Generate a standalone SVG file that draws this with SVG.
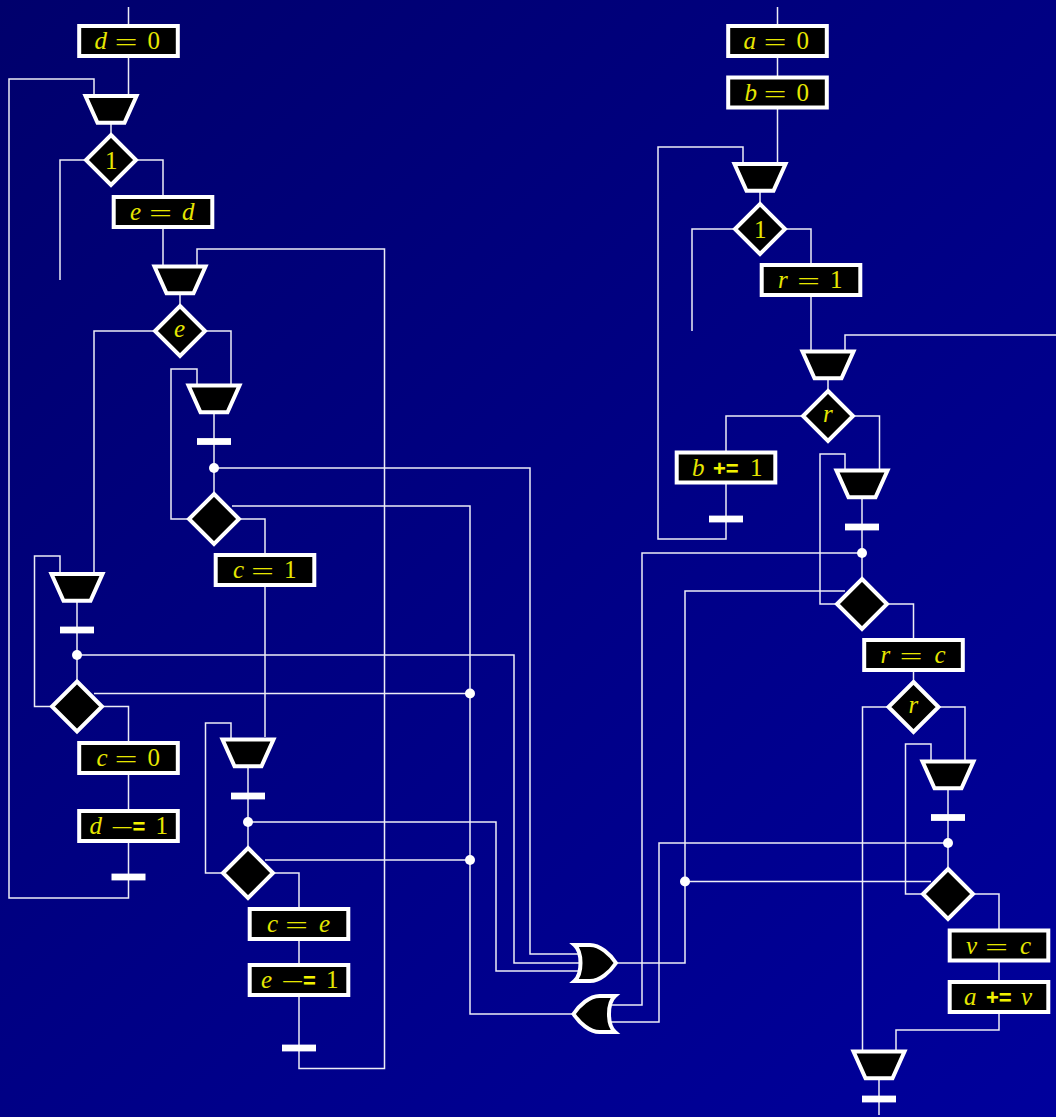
<svg xmlns="http://www.w3.org/2000/svg" width="1056" height="1117" viewBox="0 0 1056 1117">
<style>
.w{fill:none;stroke:#ecECF6;stroke-width:1.5}
.s{fill:#000;stroke:#fff;stroke-width:4;stroke-miterlimit:10}
.bar{fill:#fff}
.dot{fill:#fff}
text{font-family:"Liberation Serif",serif;font-size:25px;fill:#e6e600}
.i{font-style:italic}
.e{font-family:"DejaVu Sans",sans-serif;font-weight:200;font-size:30px}
.b{font-family:"Liberation Sans",sans-serif;font-weight:bold;font-size:22px;fill:#f2f200}
</style>
<defs>
<linearGradient id="bg" gradientUnits="userSpaceOnUse" x1="0" y1="0" x2="1056" y2="1117"><stop offset="0" stop-color="#00006c"/><stop offset="1" stop-color="#00009c"/></linearGradient>
<rect id="box" class="s" x="-49.3" y="-15" width="98.6" height="30"/>
<polygon id="mg" class="s" points="-25.5,-13.500 25.500,-13.500 13.500,13.200 -13.500,13.200"/>
<polygon id="di" class="s" points="0,-25 25,0 0,25 -25,0"/>
<rect id="br" class="bar" x="-17" y="-3.400" width="34" height="6.800"/>
<path id="org" class="s" d="M574.500,945C582.500,952 582.500,974 574.500,981L590,981C600,981 610,972 616,963C610,954 600,945 590,945Z"/>
</defs>
<rect width="1056" height="1117" fill="url(#bg)"/>
<g id="connectors">
<path class="w" d="M128.500,7V96M94,96V79H9V898H128.500V826"/>
<path class="w" d="M111,122V135M85,160H60V280M137,160H163V266"/>
<path class="w" d="M197,266V249H384.500V1068.500H299V980M180,292V305M154,331H94V574M206,331H231V385"/>
<path class="w" d="M197,385V369H171V519H190M214,412V495M214,468H530V954H580M232,506H470V1014H575M240,519H265V737"/>
<path class="w" d="M231,739V723H205.500V873H225M248,766V850M248,822H496V971H580M265,860H470M274,873H299V980"/>
<path class="w" d="M60,573V556H34.500V706.500H54M77,600V683M77,655H514V963H580M94,693.500H470M103,706.500H128.500V826"/>
<path class="w" d="M777.500,7V164M743,164V147H658V539H726V468"/>
<path class="w" d="M760,190V205M734,229H692V331M786,229H811V352M845,352V335H1056M828,377V392M802,416H726V452M854,416H879.500V470"/>
<path class="w" d="M845,470V454H820V604H840M862,497V580M862,553H642V1005H612M845,591H685V963H615M888,604H913.500V684"/>
<path class="w" d="M888,707H862.500V1051M939,707H965V761M931,761V744H905.500V894H925M948,788V870M948,843H659V1022H610M931,881.500H685M974,894H999V1030H896V1051M879,1078V1115"/>
</g>
<g id="or1"><use href="#org"/></g>
<g id="or2"><use href="#org" transform="translate(1189.500,51) scale(-1,1)"/></g>
<g id="dots">
<circle class="dot" cx="214" cy="468" r="5"/><circle class="dot" cx="77" cy="655" r="5"/><circle class="dot" cx="248" cy="822" r="5"/>
<circle class="dot" cx="470" cy="693.500" r="5"/><circle class="dot" cx="470" cy="860" r="5"/><circle class="dot" cx="862" cy="553" r="5"/>
<circle class="dot" cx="948" cy="843" r="5"/><circle class="dot" cx="685" cy="881.500" r="5"/>
</g>
<g id="bars">
<use href="#br" x="214" y="441.500"/><use href="#br" x="77" y="630"/><use href="#br" x="248" y="796"/><use href="#br" x="128.500" y="877"/><use href="#br" x="299" y="1048"/>
<use href="#br" x="726" y="519"/><use href="#br" x="862" y="527"/><use href="#br" x="948" y="817.500"/><use href="#br" x="879" y="1099"/>
</g>
<g id="m1" transform="translate(111,109.500)"><use href="#mg"/></g>
<g id="m2" transform="translate(180,280)"><use href="#mg"/></g>
<g id="m3" transform="translate(214,399)"><use href="#mg"/></g>
<g id="m4" transform="translate(77,587.500)"><use href="#mg"/></g>
<g id="m5" transform="translate(248,753)"><use href="#mg"/></g>
<g id="m6" transform="translate(760,177.500)"><use href="#mg"/></g>
<g id="m7" transform="translate(828,365)"><use href="#mg"/></g>
<g id="m8" transform="translate(862,484)"><use href="#mg"/></g>
<g id="m9" transform="translate(948,775)"><use href="#mg"/></g>
<g id="m10" transform="translate(879,1065)"><use href="#mg"/></g>
<g id="d1" transform="translate(111,160)"><use href="#di"/><text x="-6" y="8.500">1</text></g>
<g id="d2" transform="translate(180,331)"><use href="#di"/><text class="i" x="-6" y="6">e</text></g>
<g id="d3" transform="translate(214,519)"><use href="#di"/></g>
<g id="d4" transform="translate(77,706.500)"><use href="#di"/></g>
<g id="d5" transform="translate(248,873)"><use href="#di"/></g>
<g id="d6" transform="translate(760,229)"><use href="#di"/><text x="-6" y="8.500">1</text></g>
<g id="d7" transform="translate(828,416)"><use href="#di"/><text class="i" x="-5" y="6">r</text></g>
<g id="d8" transform="translate(862,604)"><use href="#di"/></g>
<g id="d9" transform="translate(913.500,707)"><use href="#di"/><text class="i" x="-5" y="6">r</text></g>
<g id="d10" transform="translate(948,894)"><use href="#di"/></g>
<g id="b1" transform="translate(128.500,41)"><use href="#box"/><text><tspan class="i" x="-34" y="8">d</tspan><tspan class="e" x="-15" y="11">=</tspan><tspan x="19" y="8">0</tspan></text></g>
<g id="b2" transform="translate(163,212)"><use href="#box"/><text><tspan class="i" x="-33" y="8">e</tspan><tspan class="e" x="-15" y="11">=</tspan><tspan class="i" x="19" y="8">d</tspan></text></g>
<g id="b3" transform="translate(265,570)"><use href="#box"/><text><tspan class="i" x="-32" y="8">c</tspan><tspan class="e" x="-15" y="11">=</tspan><tspan x="19" y="8">1</tspan></text></g>
<g id="b4" transform="translate(128.500,758)"><use href="#box"/><text><tspan class="i" x="-32" y="8">c</tspan><tspan class="e" x="-15" y="11">=</tspan><tspan x="19" y="8">0</tspan></text></g>
<g id="b5" transform="translate(128.500,826)"><use href="#box"/><text><tspan class="i" x="-39" y="8">d</tspan><tspan class="e" x="-19" y="11">−</tspan><tspan class="b" x="4" y="8">=</tspan><tspan x="27" y="8">1</tspan></text></g>
<g id="b6" transform="translate(299,924)"><use href="#box"/><text><tspan class="i" x="-32" y="8">c</tspan><tspan class="e" x="-15" y="11">=</tspan><tspan class="i" x="20" y="8">e</tspan></text></g>
<g id="b7" transform="translate(299,980)"><use href="#box"/><text><tspan class="i" x="-38" y="8">e</tspan><tspan class="e" x="-19" y="11">−</tspan><tspan class="b" x="4" y="8">=</tspan><tspan x="27" y="8">1</tspan></text></g>
<g id="b8" transform="translate(777.500,41)"><use href="#box"/><text><tspan class="i" x="-34" y="8">a</tspan><tspan class="e" x="-15" y="11">=</tspan><tspan x="19" y="8">0</tspan></text></g>
<g id="b9" transform="translate(777.500,92.500)"><use href="#box"/><text><tspan class="i" x="-33" y="8">b</tspan><tspan class="e" x="-15" y="11">=</tspan><tspan x="19" y="8">0</tspan></text></g>
<g id="b10" transform="translate(811,280)"><use href="#box"/><text><tspan class="i" x="-33" y="8">r</tspan><tspan class="e" x="-15" y="11">=</tspan><tspan x="19" y="8">1</tspan></text></g>
<g id="b11" transform="translate(726,467.500)"><use href="#box"/><text><tspan class="i" x="-34" y="8">b</tspan><tspan class="b" x="-13" y="8">+=</tspan><tspan x="24" y="8">1</tspan></text></g>
<g id="b12" transform="translate(913.500,655)"><use href="#box"/><text><tspan class="i" x="-33" y="8">r</tspan><tspan class="e" x="-15" y="11">=</tspan><tspan class="i" x="21" y="8">c</tspan></text></g>
<g id="b13" transform="translate(999,945.500)"><use href="#box"/><text><tspan class="i" x="-33" y="8">v</tspan><tspan class="e" x="-15" y="11">=</tspan><tspan class="i" x="21" y="8">c</tspan></text></g>
<g id="b14" transform="translate(999,997)"><use href="#box"/><text><tspan class="i" x="-35" y="8">a</tspan><tspan class="b" x="-13" y="8">+=</tspan><tspan class="i" x="22" y="8">v</tspan></text></g>
</svg>
